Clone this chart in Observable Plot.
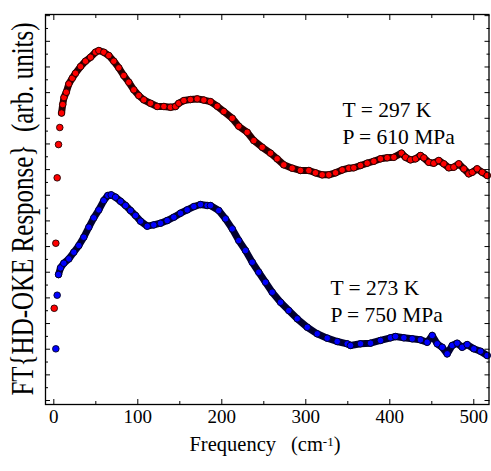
<!DOCTYPE html>
<html><head><meta charset="utf-8">
<script src="https://cdn.jsdelivr.net/npm/d3@7"></script>
<script src="https://cdn.jsdelivr.net/npm/@observablehq/plot@0.6"></script>
<style>body{margin:0;background:#fff} svg{display:block}</style>
</head><body><div id="chart"></div>
<script>
// T = 297 K, P = 610 MPa (red)
const redFreq = [0.5,2.4,4.0,5.6,7.1,9.2,10.6,12.1,14.8,17.9,21.9,25.8,31.8,37.7,43.7,49.6,53.6,59.5,65.5,71.4,77.4,83.3,89.3,95.2,101.2,107.1,115.1,123.1,131.0,138.9,144.9,148.8,154.8,162.7,170.7,178.6,186.5,194.5,202.4,212.4,220.2,230.2,238.1,248.1,258.0,265.9,273.8,283.8,293.7,303.6,311.5,319.5,327.4,335.4,343.3,351.2,357.1,365.1,373.1,381.0,388.9,396.9,404.8,413.9,418.7,424.6,430.6,436.5,440.5,446.4,452.4,458.3,464.3,470.2,476.2,482.1,488.1,494.0,498.1,504.0,510.0,516.0];
const redAmp = [7.19,12.26,17.36,19.95,21.28,22.41,23.07,23.62,24.03,24.68,25.12,25.51,26.03,26.45,26.76,27.15,27.28,27.15,26.89,26.45,25.93,25.33,24.81,24.22,23.77,23.44,23.17,22.92,22.92,22.86,22.92,23.17,23.38,23.46,23.51,23.42,23.30,22.94,22.53,22.00,21.38,20.91,20.26,19.74,19.28,18.84,18.37,18.11,17.93,17.93,17.75,17.59,17.59,17.75,17.97,18.11,18.14,18.32,18.50,18.65,18.84,18.92,18.96,19.28,18.96,18.76,18.84,19.10,18.92,18.57,18.50,18.71,18.45,18.14,18.19,18.45,18.06,17.67,17.79,18.06,17.79,17.54];
// T = 273 K, P = 750 MPa (blue)
const blueFreq = [2.4,4.0,5.6,8.0,11.9,17.9,23.8,29.8,35.7,41.7,47.6,53.6,59.5,64.3,68.3,73.5,79.4,85.4,91.3,97.3,103.2,111.2,119.0,127.0,135.0,142.9,150.8,158.8,166.7,174.6,182.6,186.5,196.4,204.4,212.4,220.2,228.2,236.2,244.0,252.0,260.0,269.9,279.8,289.8,301.7,313.6,325.5,337.4,349.3,353.2,365.1,377.0,388.9,400.8,406.8,416.7,426.7,436.5,444.5,450.5,456.4,462.4,468.3,474.3,480.2,486.2,492.1,500.0,508.0,515.9];
const blueAmp = [4.03,8.21,9.82,10.34,10.70,11.04,11.56,12.08,12.73,13.51,14.24,14.86,15.59,15.98,16.03,15.85,15.53,15.20,14.81,14.42,13.98,13.59,13.69,13.82,14.03,14.29,14.60,14.86,15.12,15.28,15.20,15.20,14.81,14.16,13.38,12.47,11.69,10.78,10.00,9.22,8.44,7.66,7.01,6.37,5.71,5.20,4.86,4.60,4.42,4.29,4.42,4.47,4.68,4.89,4.99,4.89,4.81,4.73,4.54,5.07,4.42,4.15,3.64,4.29,4.47,4.15,4.36,4.03,3.84,3.51];

const xTicks = [0,100,200,300,400,500];
const xMinor = [50,150,250,350,450];
const yMajor = [0,2,4,6,8,10,12,14,16,18,20,22,24,26,28,30];
const yMinor = [1,3,5,7,9,11,13,15,17,19,21,23,25,27,29];
const xTitle = "Frequency";
const xTitleUnit = "(cm";
const xTitleSup = "-1";
const yTitle = "FT{HD-OKE Response}  (arb. units)";
const notes = [
  {x: 343.7, y: 22.62, text: "T = 297 K"},
  {x: 343.7, y: 20.55, text: "P = 610 MPa"},
  {x: 329.4, y: 8.73, text: "T = 273 K"},
  {x: 329.4, y: 6.65, text: "P = 750 MPa"}
];

const serif = "'Liberation Serif', 'Times New Roman', 'DejaVu Serif', serif";
const red = redFreq.map((f, i) => ({f, a: redAmp[i]}));
const blue = blueFreq.map((f, i) => ({f, a: blueAmp[i]}));
const redBand = red.filter(d => d.f >= 9);
const blueBand = blue.filter(d => d.f >= 5);

const blank = () => "";
const chart = Plot.plot({
  width: 491, height: 471,
  marginLeft: 45, marginRight: 2.5, marginTop: 14, marginBottom: 67,
  x: {domain: [-9.9, 518.1]},
  y: {domain: [-0.31, 30.09]},
  style: {fontFamily: serif, fontSize: "19px", color: "black", background: "white"},
  marks: [
    Plot.line(redBand, {x: "f", y: "a", stroke: "#2a0000", strokeWidth: 7}),
    Plot.dot(red, {x: "f", y: "a", r: 3.3, fill: "#ff0000", stroke: "#220000", strokeWidth: 0.9}),
    Plot.line(blueBand, {x: "f", y: "a", stroke: "#000030", strokeWidth: 7}),
    Plot.dot(blue, {x: "f", y: "a", r: 3.3, fill: "#0000ff", stroke: "#000022", strokeWidth: 0.9}),
    Plot.text(notes, {x: "x", y: "y", text: "text", textAnchor: "start", fontSize: 21.5, fontFamily: serif, fill: "black"}),
    Plot.axisX({anchor: "bottom", ticks: xTicks, tickSize: 0, tickPadding: 5, label: null, fontFamily: serif}),
    Plot.axisX({anchor: "bottom", ticks: xTicks, tickSize: -5, tickFormat: blank, label: null}),
    Plot.axisX({anchor: "bottom", ticks: xMinor, tickSize: -3, tickFormat: blank, label: null}),
    Plot.axisX({anchor: "top", ticks: xTicks, tickSize: -5, tickFormat: blank, label: null}),
    Plot.axisX({anchor: "top", ticks: xMinor, tickSize: -3, tickFormat: blank, label: null}),
    Plot.axisY({anchor: "left", ticks: yMajor, tickSize: -5, tickFormat: blank, label: null}),
    Plot.axisY({anchor: "left", ticks: yMinor, tickSize: -3, tickFormat: blank, label: null}),
    Plot.axisY({anchor: "right", ticks: yMajor, tickSize: -5, tickFormat: blank, label: null}),
    Plot.axisY({anchor: "right", ticks: yMinor, tickSize: -3, tickFormat: blank, label: null}),
    Plot.frame({stroke: "black", strokeWidth: 1.3})
  ]
});

const svg = d3.select(chart);
const xt = svg.append("text")
  .attr("x", 265).attr("y", 450.5)
  .attr("text-anchor", "middle")
  .style("font-family", serif).style("font-size", "20.5px").attr("fill", "black");
xt.append("tspan").text(xTitle);
xt.append("tspan").attr("dx", 15).text(xTitleUnit);
xt.append("tspan").style("font-size", "13px").attr("dy", -5).text(xTitleSup);
xt.append("tspan").attr("dy", 5).text(")");

svg.append("text")
  .attr("transform", "translate(33,209) scale(1.3,1) rotate(-90)")
  .attr("text-anchor", "middle")
  .style("font-family", serif).style("font-size", "25px").attr("fill", "black")
  .text(yTitle);

document.getElementById("chart").appendChild(chart);
</script>
</body></html>
